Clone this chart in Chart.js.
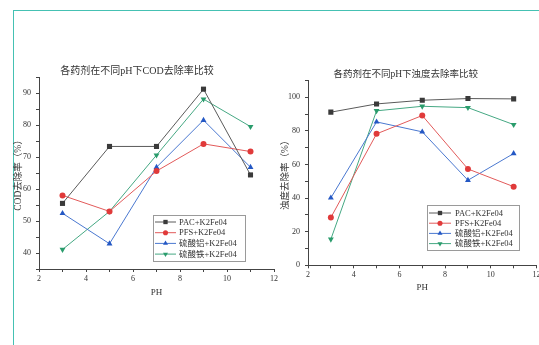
<!DOCTYPE html>
<html><head><meta charset="utf-8">
<script src="https://cdn.jsdelivr.net/npm/chart.js@4/dist/chart.umd.min.js"></script>
<style>
html,body{margin:0;padding:0;background:#fff;overflow:hidden;width:539px;height:345px;position:relative;}
#frame{position:absolute;left:13px;top:10px;width:600px;height:400px;border-top:1.5px solid #45c1b3;border-left:1.5px solid #45c1b3;}
#c1{position:absolute;left:0;top:0;}
#c2{position:absolute;left:275px;top:0;}
</style></head><body>
<div id="frame"></div>
<canvas id="c1" width="290" height="345"></canvas>
<canvas id="c2" width="280" height="345"></canvas>
<script>
// ---- data ----
const phValues = [3, 5, 7, 9, 11];
const seriesNames = ['PAC+K2Fe04', 'PFS+K2Fe04', '硫酸铝+K2Fe04', '硫酸铁+K2Fe04'];
const codPAC = [55.5, 73.3, 73.3, 91.2, 64.4];
const codPFS = [58.0, 53.0, 65.6, 74.1, 71.7];
const codAl  = [52.4, 42.9, 66.8, 81.5, 66.8];
const codFe  = [41.1, 53.0, 70.6, 88.1, 79.5];
const turPAC = [91.1, 96.0, 98.2, 99.2, 99.0];
const turPFS = [28.4, 78.2, 89.1, 57.3, 46.8];
const turAl  = [40.1, 85.3, 79.4, 50.6, 66.5];
const turFe  = [15.5, 91.9, 94.6, 93.8, 83.7];
const xTickLabels = [2, 4, 6, 8, 10, 12];
const codTickLabels = [40, 50, 60, 70, 80, 90];
const turTickLabels = [0, 20, 40, 60, 80, 100];
const titleCOD = '各药剂在不同pH下COD去除率比较';
const titleTur = '各药剂在不同pH下浊度去除率比较';
const yTitleCOD = 'COD去除率（%）';
const yTitleTur = '浊度去除率（%）';
const xTitle = 'PH';

// ---- styles ----
const FONT = "'Liberation Serif', 'Noto Sans CJK SC', serif";
const lineColors = ['#5a5a5a', '#e25a5a', '#4a78d0', '#45a883'];
const markColors = ['#3a3a3a', '#e03a3a', '#2458c4', '#2a9c6c'];
const markStyles = ['rect', 'circle', 'triangle', 'triangle'];
const markRot = [0, 0, 0, 180];
const markRad = [3.6, 3, 3.4, 3.4];

function buildSets(seriesArr) {
  return seriesArr.map((vals, i) => ({
    label: seriesNames[i],
    data: phValues.map((x, j) => ({x: x, y: vals[j]})),
    borderColor: lineColors[i],
    borderWidth: 1,
    pointBackgroundColor: markColors[i],
    pointBorderColor: markColors[i],
    pointBorderWidth: 0,
    pointStyle: markStyles[i],
    pointRotation: markRot[i],
    pointRadius: markRad[i],
    tension: 0
  }));
}

function drawMarker(ctx, style, rot, x, y, r, color) {
  ctx.save();
  ctx.fillStyle = color;
  ctx.translate(x, y);
  ctx.rotate(rot * Math.PI / 180);
  ctx.beginPath();
  if (style === 'rect') {
    const s = r * Math.SQRT1_2;
    ctx.rect(-s, -s, 2 * s, 2 * s);
  } else if (style === 'circle') {
    ctx.arc(0, 0, r, 0, Math.PI * 2);
  } else {
    const h = r * 1.5, w = r * Math.sqrt(3) / 2 * 2;
    ctx.moveTo(0, -r);
    ctx.lineTo(r * Math.sin(Math.PI / 3) * 1.0, r * 0.5);
    ctx.lineTo(-r * Math.sin(Math.PI / 3) * 1.0, r * 0.5);
    ctx.closePath();
  }
  ctx.fill();
  ctx.restore();
}

const legendBox = {
  id: 'legendBox',
  afterDraw(chart, args, o) {
    const ctx = chart.ctx;
    ctx.save();
    ctx.fillStyle = '#fff';
    ctx.fillRect(o.x, o.y, o.w, o.h);
    ctx.strokeStyle = '#9a9a9a';
    ctx.lineWidth = 1;
    ctx.strokeRect(o.x + 0.5, o.y + 0.5, o.w, o.h);
    chart.data.datasets.forEach((ds, i) => {
      const cy = o.y + o.first + i * o.step;
      ctx.strokeStyle = ds.borderColor;
      ctx.lineWidth = 1;
      ctx.beginPath();
      ctx.moveTo(o.x + o.l0, cy + 0.5);
      ctx.lineTo(o.x + o.l1, cy + 0.5);
      ctx.stroke();
      drawMarker(ctx, ds.pointStyle, ds.pointRotation, o.x + (o.l0 + o.l1) / 2, cy + 0.5, ds.pointRadius * 0.85, ds.pointBackgroundColor);
      ctx.fillStyle = '#333';
      ctx.font = o.fontSize + 'px ' + FONT;
      ctx.textBaseline = 'middle';
      ctx.textAlign = 'left';
      ctx.fillText(ds.label, o.x + o.tx, cy + 1);
    });
    ctx.restore();
  }
};

function makeChart(id, sets, cfg) {
  return new Chart(document.getElementById(id), {
    type: 'line',
    data: {datasets: sets},
    plugins: [legendBox],
    options: {
      responsive: false,
      animation: false,
      devicePixelRatio: 1,
      layout: {padding: {left: 0, top: 0, right: cfg.padRight, bottom: 0}},
      plugins: {
        legend: {display: false},
        tooltip: {enabled: false},
        title: {
          display: true, text: cfg.title, color: '#333',
          font: {family: FONT, size: cfg.titleSize, weight: 'normal'},
          padding: {top: cfg.titleTop, bottom: cfg.titleBottom}
        },
        legendBox: cfg.legend
      },
      scales: {
        x: {
          type: 'linear', min: 2, max: 12,
          afterFit: s => { s.height = cfg.xHeight; },
          border: {display: true, color: '#444', width: 1},
          grid: {drawOnChartArea: false, drawTicks: true, tickLength: 3, color: '#444'},
          ticks: {
            stepSize: 1, autoSkip: false, maxRotation: 0, padding: 2, color: '#333',
            font: {family: FONT, size: 8},
            callback: v => xTickLabels.includes(v) ? String(v) : ''
          },
          title: {
            display: true, text: xTitle, color: '#333',
            font: {family: FONT, size: 9},
            padding: {top: 0, bottom: cfg.xTitleBottom}
          }
        },
        y: {
          type: 'linear', min: cfg.yMin, max: cfg.yMax,
          afterFit: s => { s.width = cfg.yWidth; },
          border: {display: true, color: '#444', width: 1},
          grid: {drawOnChartArea: false, drawTicks: true, tickLength: 3, color: '#444'},
          ticks: {
            stepSize: cfg.yStep, autoSkip: false, padding: 5, color: '#333',
            font: {family: FONT, size: 8},
            callback: v => cfg.yLabels.includes(v) ? String(v) : ''
          },
          title: {
            display: true, text: cfg.yTitle, color: '#333',
            font: {family: FONT, size: 9.5},
            padding: {top: cfg.yTitleTop, bottom: 0}
          }
        }
      }
    }
  });
}

makeChart('c1', buildSets([codPAC, codPFS, codAl, codFe]), {
  title: titleCOD, titleSize: 10, titleTop: 65, titleBottom: 0,
  padRight: 16, xHeight: 76, yWidth: 39, xTitleBottom: 47,
  yMin: 35, yMax: 95, yStep: 5, yLabels: codTickLabels, yTitle: yTitleCOD, yTitleTop: 12.5,
  legend: {x: 153, y: 215, w: 92, h: 46, first: 6.5, step: 10.7, l0: 2, l1: 23, tx: 26, fontSize: 8.5}
});

makeChart('c2', buildSets([turPAC, turPFS, turAl, turFe]), {
  title: titleTur, titleSize: 9.5, titleTop: 68.5, titleBottom: 0.5,
  padRight: 18.5, xHeight: 79.7, yWidth: 33, xTitleBottom: 51.5,
  yMin: 0, yMax: 110, yStep: 10, yLabels: turTickLabels, yTitle: yTitleTur, yTitleTop: 4.5,
  legend: {x: 152, y: 205, w: 92, h: 45, first: 7.5, step: 10.2, l0: 2, l1: 24, tx: 28, fontSize: 8.5}
});
</script>
</body></html>
